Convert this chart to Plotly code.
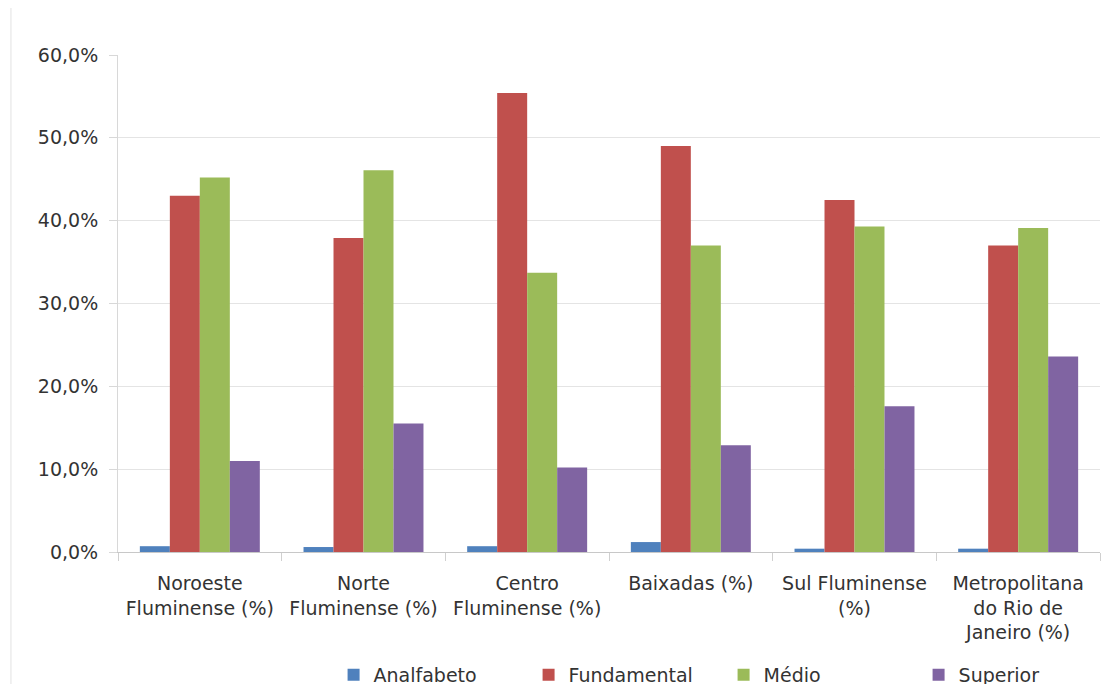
import plotly.graph_objects as go

categories = [
    "Noroeste<br>Fluminense (%)",
    "Norte<br>Fluminense (%)",
    "Centro<br>Fluminense (%)",
    "Baixadas (%)",
    "Sul Fluminense<br>(%)",
    "Metropolitana<br>do Rio de<br>Janeiro (%)",
]
analfabeto = [0.7, 0.6, 0.7, 1.2, 0.4, 0.4]
fundamental = [43.0, 37.9, 55.4, 49.0, 42.5, 37.0]
medio = [45.2, 46.1, 33.7, 37.0, 39.3, 39.1]
superior = [11.0, 15.5, 10.2, 12.9, 17.6, 23.6]

series = [
    ("Analfabeto", analfabeto, "#4F81BD"),
    ("Fundamental", fundamental, "#C0504D"),
    ("Médio", medio, "#9BBB59"),
    ("Superior", superior, "#8064A2"),
]

FONT = "DejaVu Sans, Verdana, sans-serif"
TXT = "#333333"

fig = go.Figure()
for name, vals, color in series:
    fig.add_trace(go.Bar(
        x=categories, y=vals, name=name,
        marker=dict(color=color, line=dict(width=0)),
    ))

fig.update_layout(
    width=1115, height=684,
    margin=dict(l=110, r=23, t=47, b=140),
    paper_bgcolor="white", plot_bgcolor="white",
    barmode="group", bargap=0.267, bargroupgap=0,
    separators=",.",
    font=dict(family=FONT, size=19, color=TXT),
    showlegend=True,
    legend=dict(
        orientation="h", xref="container", yref="container",
        x=0.292, xanchor="left", y=0.025, yanchor="middle",
        font=dict(family=FONT, size=19, color=TXT),
        entrywidth=150, entrywidthmode="pixels",
        traceorder="normal", itemsizing="constant",
    ),
    xaxis=dict(
        automargin=False,
        showline=True, linecolor="#c8c8c8", linewidth=1,
        ticks="outside", tickson="boundaries", ticklen=8, tickcolor="#d0d0d0",
        tickfont=dict(family=FONT, size=19, color=TXT),
        ticklabelstandoff=14,
        showgrid=False,
    ),
    yaxis=dict(
        automargin=False,
        range=[0, 60], dtick=10, tickformat=".1f", ticksuffix="%",
        showgrid=True, gridcolor="#e4e4e4", gridwidth=1,
        showline=True, linecolor="#d8d8d8", linewidth=1,
        ticks="outside", ticklen=8, tickcolor="#d8d8d8",
        tickfont=dict(family=FONT, size=19, color=TXT),
        ticklabelstandoff=7,
        zeroline=False,
    ),
)

fig.add_shape(type="line", xref="paper", yref="paper", x0=-0.109, x1=-0.109, y0=-0.27, y1=1.1,
              line=dict(color="#e2e2e2", width=1))

fig.write_html("out.html")
